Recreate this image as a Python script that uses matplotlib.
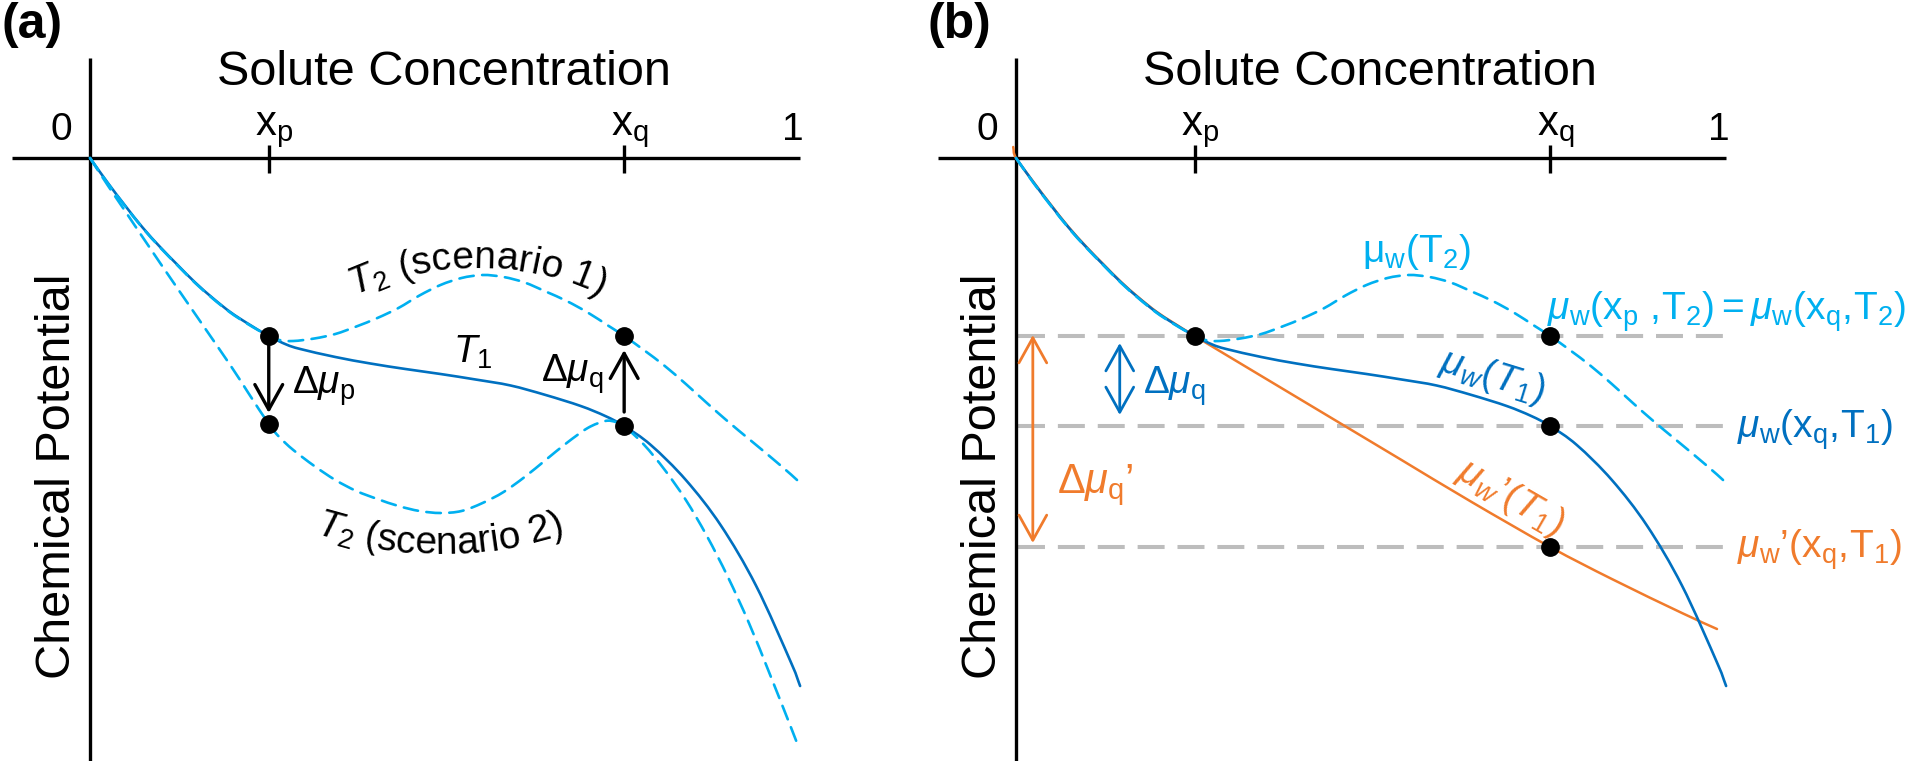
import numpy as np
import matplotlib
matplotlib.use("Agg")
import matplotlib.pyplot as plt
from matplotlib.patches import FancyArrowPatch, PathPatch
from matplotlib.path import Path

plt.rcParams['font.family'] = ['Liberation Sans', 'DejaVu Sans']
plt.rcParams['mathtext.fontset'] = 'custom'
plt.rcParams['mathtext.rm'] = 'Liberation Sans'
plt.rcParams['mathtext.it'] = 'Liberation Sans:italic'
plt.rcParams['mathtext.bf'] = 'Liberation Sans:bold'

# schematic curves: solute concentration (0..1) vs chemical potential (arbitrary units)
x_p, x_q = 0.255, 0.762

c_t1 = [0, 0.025, 0.05, 0.075, 0.10, 0.125, 0.15, 0.175, 0.20, 0.225, 0.255, 0.28, 0.30,
        0.35, 0.40, 0.45, 0.50, 0.55, 0.60, 0.65, 0.70, 0.735, 0.762, 0.80, 0.85, 0.90,
        0.95, 1.00, 1.013]
mu_t1 = [0, -0.245, -0.475, -0.695, -0.89, -1.07, -1.245, -1.40, -1.54, -1.655, -1.78,
         -1.865, -1.91, -1.99, -2.055, -2.11, -2.16, -2.215, -2.275, -2.37, -2.48, -2.58,
         -2.68, -2.87, -3.22, -3.675, -4.275, -5.045, -5.28]

# T2, scenario 1 (panel a) = mu_w(T2) (panel b)
c_s1 = [0, 0.025, 0.05, 0.075, 0.10, 0.125, 0.15, 0.175, 0.20, 0.225, 0.255, 0.27, 0.29,
        0.32, 0.35, 0.38, 0.41, 0.44, 0.47, 0.50, 0.53, 0.56, 0.59, 0.62, 0.65, 0.68, 0.71,
        0.74, 0.762, 0.79, 0.82, 0.85, 0.88, 0.91, 0.94, 0.97, 1.00, 1.016]
mu_s1 = [0, -0.25, -0.48, -0.70, -0.895, -1.075, -1.25, -1.405, -1.545, -1.66, -1.78,
         -1.82, -1.83, -1.805, -1.76, -1.685, -1.60, -1.50, -1.375, -1.27, -1.20, -1.17,
         -1.19, -1.245, -1.335, -1.43, -1.545, -1.68, -1.78, -1.92, -2.08, -2.26, -2.45,
         -2.635, -2.81, -2.985, -3.165, -3.27]

# T2, scenario 2 (panel a)
c_s2 = [0, 0.025, 0.05, 0.10, 0.15, 0.20, 0.225, 0.255, 0.27, 0.29, 0.32, 0.35, 0.38,
        0.41, 0.44, 0.47, 0.50, 0.53, 0.56, 0.59, 0.62, 0.65, 0.68, 0.71, 0.735, 0.75,
        0.762, 0.79, 0.82, 0.85, 0.88, 0.91, 0.94, 0.97, 1.00, 1.011]
mu_s2 = [0, -0.27, -0.53, -1.05, -1.56, -2.07, -2.34, -2.66, -2.79, -2.92, -3.08, -3.22,
         -3.33, -3.41, -3.48, -3.53, -3.55, -3.53, -3.45, -3.34, -3.19, -3.02, -2.85,
         -2.70, -2.63, -2.64, -2.68, -2.865, -3.12, -3.42, -3.78, -4.19, -4.65, -5.165,
         -5.695, -5.895]

# mu_w'(T1) (panel b)
c_or = [-0.004, 0, 0.025, 0.05, 0.075, 0.10, 0.125, 0.15, 0.175, 0.20, 0.225, 0.255,
        0.30, 0.40, 0.50, 0.55, 0.65, 0.762, 0.85, 0.95, 1.00]
mu_or = [0.11, 0, -0.24, -0.47, -0.69, -0.885, -1.065, -1.24, -1.395, -1.535, -1.65,
         -1.78, -1.97, -2.39, -2.81, -3.02, -3.44, -3.89, -4.21, -4.55, -4.71]

dots_a_c = [x_p, x_p, x_q, x_q]
dots_a_mu = [-1.78, -2.66, -1.78, -2.68]
dots_b_c = [x_p, x_q, x_q, x_q]
dots_b_mu = [-1.78, -1.78, -2.68, -3.89]
levels_b = [-1.78, -2.68, -3.89]

DARK = '#0070C0'
LIGHT = '#00B0F0'
ORANGE = '#F07B2C'
GRAY = '#BDBDBD'

W, H = 1911, 761
fig = plt.figure(figsize=(W / 100, H / 100), dpi=100)
renderer = fig.canvas.get_renderer()


def make_axes(ox):
    # 1 concentration unit = 701 px, 1 potential unit = 100 px, origin at (ox, 158)
    ax = fig.add_axes([0, 0, 1, 1])
    ax.set_xlim(-ox / 701, (W - ox) / 701)
    ax.set_ylim(-(H - 158) / 100, 158 / 100)
    ax.axis('off')
    ax.patch.set_visible(False)
    return ax


def draw_frame(ax, tag):
    ax.plot([-0.111, 1.013], [0, 0], color='black', lw=2.4, solid_capstyle='butt')
    ax.plot([0, 0], [1.0, -6.1], color='black', lw=2.4, solid_capstyle='butt')
    for c in (x_p, x_q):
        ax.plot([c, c], [0.13, -0.15], color='black', lw=2.4, solid_capstyle='butt')
    ax.text(-0.126, 1.20, tag, fontsize=36, fontweight='bold', ha='left', va='baseline')
    ax.text(0.505, 0.73, 'Solute Concentration', fontsize=35, ha='center', va='baseline')
    ax.text(-0.041, 0.18, '0', fontsize=28, ha='center', va='baseline')
    ax.text(1.003, 0.18, '1', fontsize=28, ha='center', va='baseline')
    ax.text(0.236, 0.23, r'$\mathrm{x_p}$', fontsize=30, ha='left', va='baseline')
    ax.text(0.743, 0.23, r'$\mathrm{x_q}$', fontsize=30, ha='left', va='baseline')
    ax.text(-0.0285, -3.18, 'Chemical Potential', fontsize=35, rotation=90,
            rotation_mode='anchor', ha='center', va='baseline')


def curve(ax, cs, mus, **kw):
    # smooth curve through the read points (Catmull-Rom as cubic Bezier segments)
    p = np.column_stack([cs, mus])
    ext = np.vstack([2 * p[0] - p[1], p, 2 * p[-1] - p[-2]])
    verts, codes = [p[0]], [Path.MOVETO]
    for i in range(1, len(ext) - 2):
        p0, p1, p2, p3 = ext[i - 1], ext[i], ext[i + 1], ext[i + 2]
        verts += [p1 + (p2 - p0) / 6, p2 - (p3 - p1) / 6, p2]
        codes += [Path.CURVE4] * 3
    ax.add_patch(PathPatch(Path(verts, codes), fill=False, capstyle='round', **kw))


def arrow(ax, c, mu0, mu1, color, style='->', lw=2.2):
    ax.add_patch(FancyArrowPatch((c, mu0), (c, mu1), arrowstyle=style + ',head_length=0.9,head_width=0.5',
                                 mutation_scale=20, lw=lw, color=color, shrinkA=0, shrinkB=0, zorder=4))


def arc_text(ax, chunks, c, mu, radius, frown, size, color='black'):
    widths = []
    for s in chunks:
        t = ax.text(0, 0, s, fontsize=size)
        w = t.get_window_extent(renderer).width
        t.remove()
        widths.append(w if s.strip() else size * 0.278 * 100 / 72)
    total = sum(widths)
    x0, y0 = ax.transData.transform((c, mu))
    if frown:
        cx, cy, start, step, off = x0, y0 - radius, np.pi / 2 + total / 2 / radius, -1, 90
    else:
        cx, cy, start, step, off = x0, y0 + radius, 3 * np.pi / 2 - total / 2 / radius, 1, 270
    run = 0
    inv = ax.transData.inverted()
    for s, w in zip(chunks, widths):
        th = start + step * (run + w / 2) / radius
        xd, yd = inv.transform((cx + radius * np.cos(th), cy + radius * np.sin(th)))
        ax.text(xd, yd, s, fontsize=size, color=color, rotation=np.degrees(th) - off,
                rotation_mode='anchor', ha='center', va='baseline')
        run += w


dash_curve = (0, (5.5, 3.2))

# panel (a)
ax = make_axes(90)
draw_frame(ax, '(a)')
curve(ax, c_t1, mu_t1, edgecolor=DARK, lw=1.9, zorder=2)
curve(ax, c_s1, mu_s1, edgecolor=LIGHT, lw=1.9, linestyle=dash_curve, zorder=3)
curve(ax, c_s2, mu_s2, edgecolor=LIGHT, lw=1.9, linestyle=dash_curve, zorder=3)
ax.plot(dots_a_c, dots_a_mu, 'o', color='black', ms=12.5, zorder=6)
arrow(ax, x_p, -1.84, -2.55, 'black', lw=2.4)
arrow(ax, x_q, -2.54, -1.92, 'black', lw=2.4)
ax.text(0.288, -2.36, r'$\Delta\mu_\mathrm{p}$', fontsize=28, ha='left', va='baseline')
ax.text(0.733, -2.24, r'$\Delta\mu_\mathrm{q}$', fontsize=28, ha='right', va='baseline')
ax.text(0.518, -2.05, r'$T_1$', fontsize=28, ha='left', va='baseline')
arc_text(ax, ['$T_2$', ' ', '(', 's', 'c', 'e', 'n', 'a', 'r', 'i', 'o', ' ', '1', ')'],
         0.553, -1.10, 280, True, 28)
arc_text(ax, ['$T_2$', ' ', '(', 's', 'c', 'e', 'n', 'a', 'r', 'i', 'o', ' ', '2', ')'],
         0.499, -3.96, 400, False, 28)

# panel (b)
ax = make_axes(1016)
draw_frame(ax, '(b)')
for lev in levels_b:
    ax.plot([0.003, 1.014], [lev, lev], color=GRAY, lw=2.9, linestyle=(0, (6.7, 3.2)), zorder=1)
curve(ax, c_or, mu_or, edgecolor=ORANGE, lw=1.8, zorder=2)
curve(ax, c_t1, mu_t1, edgecolor=DARK, lw=1.9, zorder=3)
curve(ax, c_s1, mu_s1, edgecolor=LIGHT, lw=1.9, linestyle=dash_curve, zorder=4)
ax.plot(dots_b_c, dots_b_mu, 'o', color='black', ms=12.5, zorder=6)
arrow(ax, 0.148, -1.85, -2.57, DARK, style='<->', lw=2.0)
arrow(ax, 0.024, -1.77, -3.85, ORANGE, style='<->', lw=2.0)
ax.text(0.181, -2.36, r'$\Delta\mu_\mathrm{q}$', fontsize=28, color=DARK, ha='left', va='baseline')
ax.text(0.058, -3.35, r'$\Delta\mu_\mathrm{q}’$', fontsize=30, color=ORANGE, ha='left', va='baseline')
ax.text(0.571, -1.04, r'$\mathrm{\mu_w(T_2)}$', fontsize=28, color=LIGHT, ha='center', va='baseline')
ax.text(0.757, -1.62, r'$\mu_\mathrm{w}(\mathrm{x_p}\ ,\!\mathrm{T_2}) = \mu_\mathrm{w}(\mathrm{x_q},\!\mathrm{T_2})$',
        fontsize=28, color=LIGHT, ha='left', va='baseline')
ax.text(0.680, -2.19, r'$\mu_w(T_1)$', fontsize=28, color=DARK, rotation=-17,
        rotation_mode='anchor', ha='center', va='center')
ax.text(1.029, -2.80, r'$\mu_\mathrm{w}(\mathrm{x_q},\!\mathrm{T_1})$', fontsize=28, color=DARK,
        ha='left', va='baseline')
ax.text(1.029, -4.00, r'$\mu_\mathrm{w}’(\mathrm{x_q},\!\mathrm{T_1})$', fontsize=28, color=ORANGE,
        ha='left', va='baseline')
ax.text(0.705, -3.40, r'$\mu_w’(T_1)$', fontsize=28, color=ORANGE, rotation=-30,
        rotation_mode='anchor', ha='center', va='center')

fig.savefig('out.png', dpi=100, facecolor='white')
